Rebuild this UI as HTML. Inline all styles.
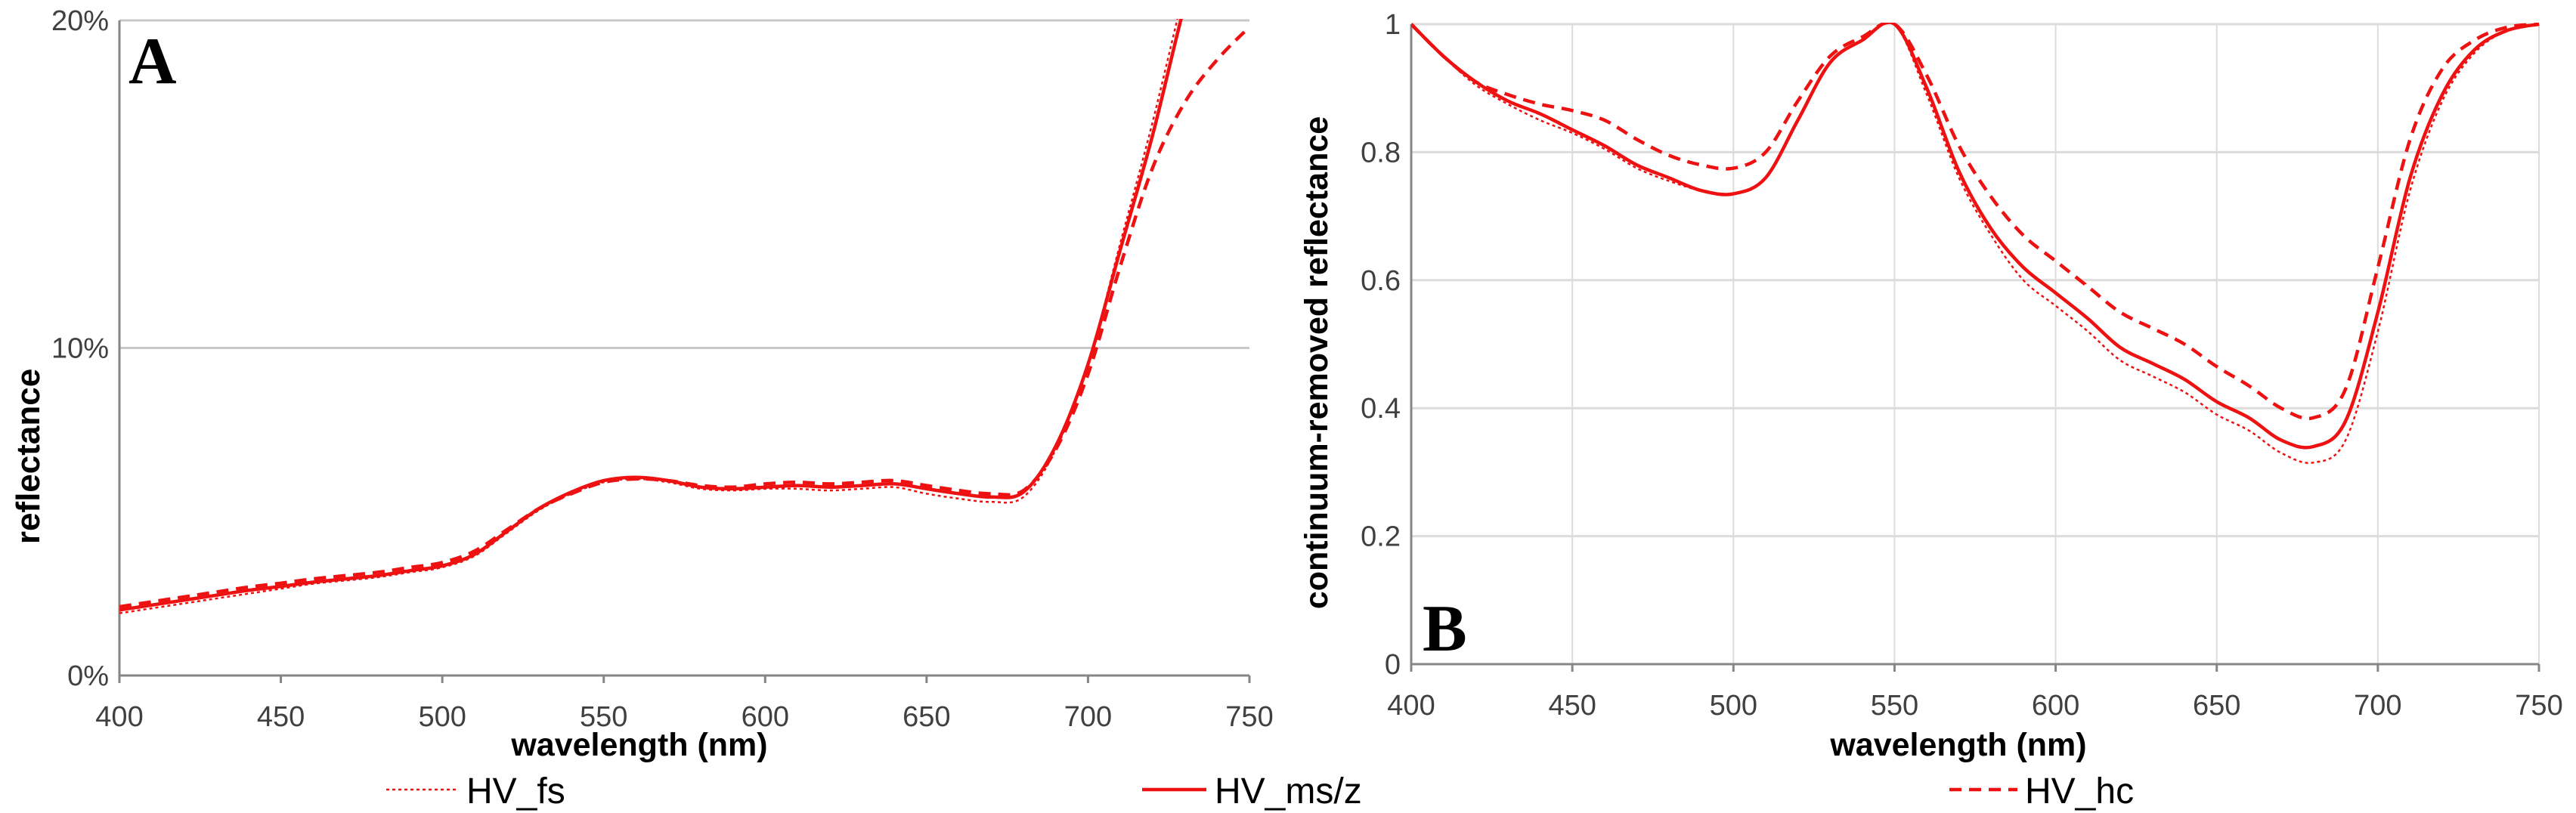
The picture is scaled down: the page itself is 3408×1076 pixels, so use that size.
<!DOCTYPE html>
<html><head><meta charset="utf-8"><style>
html,body{margin:0;padding:0;background:#fff;}
svg{display:block;font-family:"Liberation Sans Narrow","Liberation Sans",sans-serif;}
</style></head><body>
<svg id="c" width="3408" height="1076" viewBox="0 0 3408 1076" xmlns="http://www.w3.org/2000/svg"></svg>
<script>
const wl=[400,410,420,430,440,450,460,470,480,490,500,510,520,530,540,550,560,570,580,590,600,610,620,630,640,650,660,670,680,690,700,710,720,730,740,750];
const xTicks=[400,450,500,550,600,650,700,750];
const aMs=[2.0,2.15,2.3,2.45,2.6,2.72,2.85,2.95,3.05,3.2,3.35,3.7,4.4,5.1,5.6,5.95,6.05,5.95,5.75,5.7,5.75,5.8,5.75,5.8,5.85,5.7,5.55,5.45,5.6,7.0,9.5,13.0,16.5,20.5,24,27];
const aHc=[2.1,2.25,2.4,2.55,2.7,2.82,2.95,3.05,3.15,3.3,3.45,3.8,4.45,5.1,5.55,5.9,6.0,5.95,5.8,5.75,5.85,5.9,5.85,5.9,5.95,5.8,5.65,5.55,5.65,6.9,9.2,12.5,15.5,17.5,18.8,19.8];
const aFs=[1.9,2.05,2.2,2.35,2.5,2.65,2.8,2.9,3.0,3.15,3.3,3.65,4.35,5.05,5.55,5.9,6.0,5.9,5.7,5.65,5.7,5.7,5.65,5.7,5.75,5.55,5.4,5.3,5.45,6.9,9.5,13.2,16.9,21.0,25,28];
const aTicks=[0,10,20];
const aTickLabels=["0%","10%","20%"];
const bMs=[1.0,0.95,0.91,0.88,0.86,0.835,0.81,0.78,0.76,0.74,0.735,0.76,0.85,0.94,0.975,1.0,0.9,0.77,0.68,0.62,0.58,0.54,0.495,0.47,0.445,0.41,0.385,0.35,0.34,0.38,0.55,0.76,0.89,0.96,0.99,1.0];
const bHc=[1.0,0.95,0.91,0.89,0.875,0.865,0.85,0.82,0.795,0.78,0.775,0.8,0.88,0.95,0.98,1.0,0.92,0.81,0.73,0.67,0.63,0.59,0.55,0.525,0.5,0.465,0.435,0.4,0.385,0.43,0.62,0.82,0.93,0.975,0.995,1.0];
const bFs=[1.0,0.95,0.905,0.875,0.85,0.83,0.805,0.775,0.755,0.74,0.735,0.76,0.85,0.94,0.975,1.0,0.89,0.76,0.67,0.6,0.56,0.52,0.475,0.45,0.425,0.39,0.365,0.33,0.315,0.35,0.52,0.74,0.88,0.955,0.99,1.0];
const bTicks=[0,0.2,0.4,0.6,0.8,1];
const bTickLabels=["0","0.2","0.4","0.6","0.8","1"];

const NS="http://www.w3.org/2000/svg";
const svg=document.getElementById('c');
function el(tag,attrs,parent){const e=document.createElementNS(NS,tag);for(const k in attrs)e.setAttribute(k,attrs[k]);(parent||svg).appendChild(e);return e;}
function smoothPath(P){
  let d='M'+P[0][0].toFixed(1)+','+P[0][1].toFixed(1);
  for(let i=0;i<P.length-1;i++){
    const p0=P[Math.max(0,i-1)],p1=P[i],p2=P[i+1],p3=P[Math.min(P.length-1,i+2)];
    const c1=[p1[0]+(p2[0]-p0[0])/6,p1[1]+(p2[1]-p0[1])/6];
    const c2=[p2[0]-(p3[0]-p1[0])/6,p2[1]-(p3[1]-p1[1])/6];
    d+=' C'+c1[0].toFixed(1)+','+c1[1].toFixed(1)+' '+c2[0].toFixed(1)+','+c2[1].toFixed(1)+' '+p2[0].toFixed(1)+','+p2[1].toFixed(1);
  }
  return d;
}

function chart(id,L,R,T,B,ymin,ymax,ticks,labels,series,vgrid){
  const g=el('g',{});
  
  
  const sx=v=>L+(v-400)/(750-400)*(R-L);
  const sy=v=>B-(v-ymin)/(ymax-ymin)*(B-T);
  const clip=el('clipPath',{id:id+'-clip'},g);
  el('rect',{x:L,y:T-2,width:R-L+2,height:B-T+4},clip);
  if(vgrid){xTicks.forEach(t=>{if(t===400)return;const l=el('line',{x1:sx(t),x2:sx(t),y1:T,y2:B,stroke:'#dcdcdc','stroke-width':2},g);
    });}
  ticks.forEach((t,i)=>{
    if(t!==ymin){const l=el('line',{x1:L,x2:R,y1:sy(t),y2:sy(t),stroke:vgrid?'#dcdcdc':'#c8c8c8','stroke-width':3},g);
      }
    const tx=el('text',{x:L-14,y:sy(t)+13,'text-anchor':'end','font-size':38,fill:'#404040'},g);
    tx.textContent=labels[i];
    
  });
  const ax=el('line',{x1:L,x2:L,y1:T,y2:B,stroke:'#868686','stroke-width':3},g);
  
  const bx=el('line',{x1:L,x2:R,y1:B,y2:B,stroke:'#868686','stroke-width':3},g);
  
  xTicks.forEach(t=>{
    const tk=el('line',{x1:sx(t),x2:sx(t),y1:B,y2:B+10,stroke:'#868686','stroke-width':3},g);
    
    const tx=el('text',{x:sx(t),y:B+67,'text-anchor':'middle','font-size':38,fill:'#404040'},g);
    tx.textContent=t;
    
  });
  series.forEach(s=>{
    const P=wl.map((w,i)=>[sx(w),sy(s.v[i])]);
    const p=el('path',{d:smoothPath(P),fill:'none',stroke:'#ee1111','stroke-width':s.w,'stroke-dasharray':s.d,'stroke-linejoin':'round','clip-path':'url(#'+id+'-clip)'},g);
    
    
  });
  return {sx,sy};
}
chart('chart-a',158,1653,27,894,0,20,aTicks,aTickLabels,[
  {v:aFs,w:2.5,d:'4 4',name:'series-hv-fs'},
  {v:aHc,w:4.5,d:'16 10',name:'series-hv-hc'},
  {v:aMs,w:4.5,d:'none',name:'series-hv-ms-z'}],false);
chart('chart-b',1867,3359,32,879,0,1,bTicks,bTickLabels,[
  {v:bFs,w:2.5,d:'4 4',name:'series-hv-fs'},
  {v:bHc,w:4.5,d:'16 10',name:'series-hv-hc'},
  {v:bMs,w:4.5,d:'none',name:'series-hv-ms-z'}],true);

function txt(x,y,s,attrs,name){const t=el('text',Object.assign({x:x,y:y},attrs));t.textContent=s;return t;}
txt(846,1000,'wavelength (nm)',{'text-anchor':'middle','font-size':43,'font-weight':'bold',fill:'#000'},'x-axis-title-a');
txt(2591,1000,'wavelength (nm)',{'text-anchor':'middle','font-size':43,'font-weight':'bold',fill:'#000'},'x-axis-title-b');
txt(0,0,'reflectance',{'text-anchor':'middle','font-size':44,'font-weight':'bold',fill:'#000',transform:'translate(52,604) rotate(-90)'},'y-axis-title-a');
txt(0,0,'continuum-removed reflectance',{'text-anchor':'middle','font-size':43,'font-weight':'bold',fill:'#000',transform:'translate(1756,480) rotate(-90)'},'y-axis-title-b');
txt(170,110,'A',{'font-size':88,'font-weight':'bold','font-family':'"Liberation Serif",serif',fill:'#000'},'panel-label-a');
txt(1882,861,'B',{'font-size':88,'font-weight':'bold','font-family':'"Liberation Serif",serif',fill:'#000'},'panel-label-b');

const leg=[{x1:511,x2:603,tx:617,s:'HV_fs',w:2.5,d:'4 4',n:'legend-entry-hv-fs'},
 {x1:1511,x2:1596,tx:1607,s:'HV_ms/z',w:4.5,d:'none',n:'legend-entry-hv-ms-z'},
 {x1:2579,x2:2669,tx:2679,s:'HV_hc',w:4.5,d:'16 10',n:'legend-entry-hv-hc'}];
leg.forEach(l=>{
  const g=el('g',{});
  
  
  el('line',{x1:l.x1,x2:l.x2,y1:1045,y2:1045,stroke:'#ee1111','stroke-width':l.w,'stroke-dasharray':l.d},g);
  const t=el('text',{x:l.tx,y:1063,'font-size':48,fill:'#000'},g);t.textContent=l.s;
});
</script>
</body></html>
